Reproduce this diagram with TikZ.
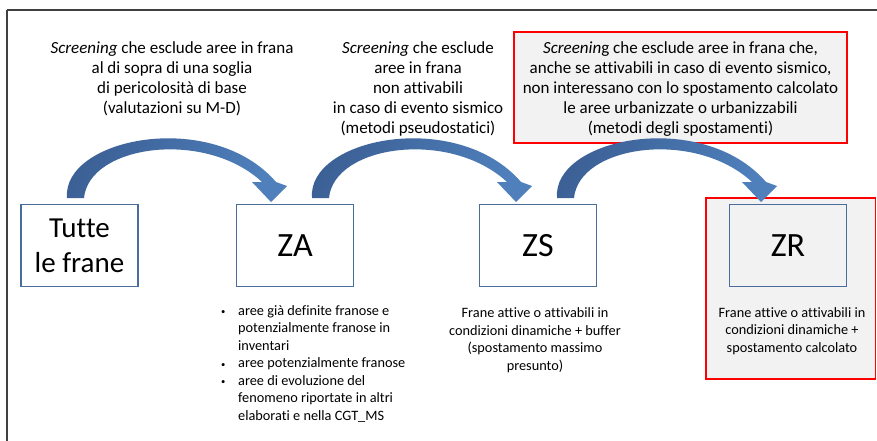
\documentclass[tikz,border=0pt]{standalone}
\usepackage{fontspec}
\setmainfont{Carlito}[Ligatures={NoCommon}]
\definecolor{framegray}{HTML}{404040}
\definecolor{boxblue}{HTML}{4A6D9E}
\definecolor{arrowdark}{HTML}{3A5E93}
\definecolor{arrowlight}{HTML}{4F80BC}
\definecolor{lightgray}{HTML}{F2F2F2}
\definecolor{redline}{HTML}{FF0000}
\newcommand{\bentarrow}[1]{%
  \shade[shift={(#1,0)}, left color=arrowdark, right color=arrowlight, shading angle=60]
    (67,198) .. controls (62,138) and (212,108) .. (276,182)
    -- (287,186) -- (271,202) -- (252,182) -- (262,182)
    .. controls (205,129) and (89,145) .. (84,198) -- cycle;}
\begin{document}
\begin{tikzpicture}[x=1pt,y=-1pt,
  zonebox/.style={draw=boxblue, line width=1.6pt, fill=white, minimum width=117pt, minimum height=82pt, inner sep=0pt},
  toptext/.style={align=center, font=\fontsize{17}{20}\selectfont, inner sep=0pt},
  smalltext/.style={align=center, font=\fontsize{14.3}{17.5}\selectfont, inner sep=0pt},
  redbox/.style={draw=redline, line width=1.6pt, fill=lightgray}]
\useasboundingbox (0,0) rectangle (877,441);
\fill[white] (0,0) rectangle (877,441);
\draw[framegray, line width=1.4pt] (7,10) -- (7,445) (7,10) -- (885,10);
% red boxes
\draw[redbox] (514,32) rectangle (847,143);
\draw[redbox] (706,198) rectangle (875.5,379);
% arrows
\bentarrow{0}
\bentarrow{245}
\bentarrow{490}
% zone boxes
\node[zonebox, font=\fontsize{29}{35}\selectfont, align=center] (tutte) at (79.5,245.5) {Tutte\\le frane};
\node[zonebox, font=\fontsize{34}{40}\selectfont] (za) at (295,245.5) {ZA};
\node[zonebox, font=\fontsize{34}{40}\selectfont] (zs) at (538,245.5) {ZS};
\node[zonebox, fill=lightgray, font=\fontsize{34}{40}\selectfont] (zr) at (788,245.5) {ZR};
% top texts
\node[toptext] (t1) at (172,78.5) {\textit{Screening} che esclude aree in frana\\al di sopra di una soglia\\di pericolosità di base\\(valutazioni su M-D)};
\node[toptext] (t2) at (418,89) {\textit{Screening} che esclude\\aree in frana\\non attivabili\\in caso di evento sismico\\(metodi pseudostatici)};
\node[toptext] (t3) at (680.5,89) {\textit{Screenin}g che esclude aree in frana che,\\anche se attivabili in caso di evento sismico,\\non interessano con lo spostamento calcolato\\le aree urbanizzate o urbanizzabili\\(metodi degli spostamenti)};
% bottom texts
\node[smalltext, align=left, anchor=north west] (list) at (219,305) {%
\makebox[19pt][l]{\hspace{2pt}\raisebox{0.5pt}{\scalebox{0.6}{\textbullet}}}aree già definite franose e\\
\hspace*{19pt}potenzialmente franose in\\
\hspace*{19pt}inventari\\
\makebox[19pt][l]{\hspace{2pt}\raisebox{0.5pt}{\scalebox{0.6}{\textbullet}}}aree potenzialmente franose\\
\makebox[19pt][l]{\hspace{2pt}\raisebox{0.5pt}{\scalebox{0.6}{\textbullet}}}aree di evoluzione del\\
\hspace*{19pt}fenomeno riportate in altri\\
\hspace*{19pt}elaborati e nella CGT\_MS};
\node[smalltext] (zstext) at (535,340) {Frane attive o attivabili in\\condizioni dinamiche + buffer\\(spostamento massimo\\presunto)};
\node[smalltext] (zrtext) at (792,331) {Frane attive o attivabili in\\condizioni dinamiche +\\spostamento calcolato};
\end{tikzpicture}
\end{document}
